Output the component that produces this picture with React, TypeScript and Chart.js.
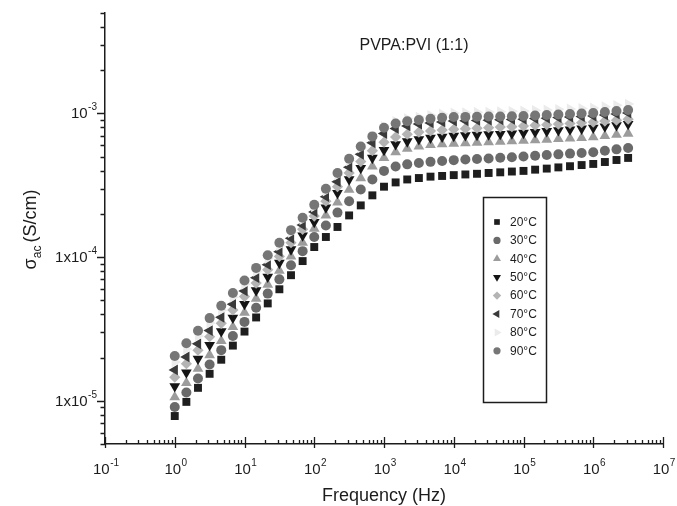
import React, { useEffect, useRef } from 'react';
import { Chart, registerables } from 'chart.js';
import { drawPoint } from 'chart.js/helpers';

Chart.register(...registerables);

// ---------------- data ----------------
const frequencies = [
  1, 1.468, 2.154, 3.162, 4.642, 6.813, 10, 14.68, 21.54, 31.62, 46.42, 68.13,
  100, 146.8, 215.4, 316.2, 464.2, 681.3, 1000, 1468, 2154, 3162, 4642, 6813,
  10000, 14678, 21544, 31623, 46416, 68129, 100000, 146780, 215440, 316230,
  464160, 681290, 1000000, 1467800, 2154400, 3162300,
];

const sigma20 = [7.83e-6, 9.82e-6, 1.23e-5, 1.54e-5, 1.93e-5, 2.42e-5, 3.03e-5, 3.80e-5, 4.76e-5, 5.97e-5, 7.48e-5, 9.38e-5, 1.175e-4, 1.38e-4, 1.62e-4, 1.95e-4, 2.29e-4, 2.69e-4, 3.09e-4, 3.31e-4, 3.47e-4, 3.55e-4, 3.63e-4, 3.67e-4, 3.72e-4, 3.76e-4, 3.80e-4, 3.85e-4, 3.89e-4, 3.94e-4, 3.98e-4, 4.06e-4, 4.13e-4, 4.21e-4, 4.29e-4, 4.37e-4, 4.45e-4, 4.59e-4, 4.74e-4, 4.90e-4];
const sigma30 = [9.06e-6, 1.14e-5, 1.43e-5, 1.79e-5, 2.25e-5, 2.82e-5, 3.54e-5, 4.44e-5, 5.57e-5, 7.00e-5, 8.77e-5, 1.10e-4, 1.38e-4, 1.66e-4, 2.04e-4, 2.45e-4, 2.95e-4, 3.47e-4, 3.98e-4, 4.27e-4, 4.42e-4, 4.52e-4, 4.60e-4, 4.67e-4, 4.73e-4, 4.78e-4, 4.82e-4, 4.86e-4, 4.91e-4, 4.95e-4, 5.01e-4, 5.07e-4, 5.13e-4, 5.19e-4, 5.25e-4, 5.31e-4, 5.37e-4, 5.50e-4, 5.62e-4, 5.75e-4];
const sigma40 = [1.06e-5, 1.33e-5, 1.67e-5, 2.08e-5, 2.61e-5, 3.27e-5, 4.10e-5, 5.14e-5, 6.44e-5, 8.05e-5, 1.01e-4, 1.26e-4, 1.58e-4, 1.95e-4, 2.40e-4, 2.95e-4, 3.55e-4, 4.27e-4, 4.90e-4, 5.37e-4, 5.69e-4, 5.89e-4, 6.03e-4, 6.10e-4, 6.17e-4, 6.21e-4, 6.27e-4, 6.31e-4, 6.35e-4, 6.41e-4, 6.46e-4, 6.52e-4, 6.58e-4, 6.64e-4, 6.70e-4, 6.76e-4, 6.84e-4, 6.97e-4, 7.11e-4, 7.24e-4];
const sigma50 = [1.26e-5, 1.57e-5, 1.96e-5, 2.44e-5, 3.04e-5, 3.78e-5, 4.71e-5, 5.86e-5, 7.29e-5, 9.10e-5, 1.13e-4, 1.41e-4, 1.75e-4, 2.21e-4, 2.79e-4, 3.47e-4, 4.17e-4, 4.90e-4, 5.56e-4, 6.10e-4, 6.38e-4, 6.61e-4, 6.76e-4, 6.87e-4, 6.97e-4, 7.03e-4, 7.08e-4, 7.14e-4, 7.19e-4, 7.24e-4, 7.31e-4, 7.41e-4, 7.52e-4, 7.62e-4, 7.73e-4, 7.83e-4, 7.94e-4, 8.11e-4, 8.26e-4, 8.43e-4];
const sigma60 = [1.46e-5, 1.81e-5, 2.25e-5, 2.79e-5, 3.46e-5, 4.29e-5, 5.31e-5, 6.59e-5, 8.17e-5, 1.01e-4, 1.26e-4, 1.56e-4, 1.93e-4, 2.45e-4, 3.09e-4, 3.85e-4, 4.62e-4, 5.50e-4, 6.31e-4, 6.84e-4, 7.16e-4, 7.41e-4, 7.55e-4, 7.66e-4, 7.76e-4, 7.83e-4, 7.89e-4, 7.96e-4, 8.04e-4, 8.09e-4, 8.17e-4, 8.26e-4, 8.34e-4, 8.43e-4, 8.51e-4, 8.61e-4, 8.71e-4, 8.85e-4, 8.97e-4, 9.12e-4];
const sigma70 = [1.64e-5, 2.02e-5, 2.49e-5, 3.08e-5, 3.81e-5, 4.70e-5, 5.81e-5, 7.18e-5, 8.85e-5, 1.09e-4, 1.35e-4, 1.67e-4, 2.06e-4, 2.63e-4, 3.35e-4, 4.22e-4, 5.19e-4, 6.24e-4, 7.24e-4, 7.85e-4, 8.18e-4, 8.43e-4, 8.59e-4, 8.73e-4, 8.85e-4, 8.89e-4, 8.93e-4, 8.97e-4, 9.02e-4, 9.08e-4, 9.12e-4, 9.20e-4, 9.27e-4, 9.35e-4, 9.44e-4, 9.51e-4, 9.59e-4, 9.75e-4, 9.91e-4, 1.007e-3];
const sigma80 = [1.86e-5, 2.29e-5, 2.82e-5, 3.47e-5, 4.27e-5, 5.25e-5, 6.46e-5, 7.94e-5, 9.77e-5, 1.20e-4, 1.48e-4, 1.82e-4, 2.24e-4, 2.88e-4, 3.72e-4, 4.68e-4, 5.75e-4, 6.92e-4, 8.13e-4, 8.81e-4, 9.20e-4, 9.44e-4, 9.70e-4, 9.91e-4, 1.007e-3, 1.012e-3, 1.019e-3, 1.023e-3, 1.028e-3, 1.035e-3, 1.040e-3, 1.050e-3, 1.057e-3, 1.067e-3, 1.074e-3, 1.084e-3, 1.091e-3, 1.114e-3, 1.138e-3, 1.161e-3];
const sigma90 = [2.05e-5, 2.51e-5, 3.07e-5, 3.76e-5, 4.59e-5, 5.62e-5, 6.87e-5, 8.41e-5, 1.03e-4, 1.26e-4, 1.54e-4, 1.88e-4, 2.31e-4, 2.99e-4, 3.85e-4, 4.84e-4, 5.89e-4, 6.92e-4, 7.94e-4, 8.51e-4, 8.81e-4, 8.99e-4, 9.18e-4, 9.33e-4, 9.44e-4, 9.46e-4, 9.48e-4, 9.51e-4, 9.53e-4, 9.57e-4, 9.59e-4, 9.66e-4, 9.75e-4, 9.82e-4, 9.91e-4, 9.98e-4, 1.007e-3, 1.023e-3, 1.040e-3, 1.057e-3];

const seriesLabels = ['20°C', '30°C', '40°C', '50°C', '60°C', '70°C', '80°C', '90°C'];
const seriesValues = [sigma20, sigma30, sigma40, sigma50, sigma60, sigma70, sigma80, sigma90];

const xMajorTicks = [0.1, 1, 10, 100, 1000, 1e4, 1e5, 1e6, 1e7];
const xTickBases = ['10', '10', '10', '10', '10', '10', '10', '10', '10'];
const xTickExps = ['-1', '0', '1', '2', '3', '4', '5', '6', '7'];
const yMajorTicks = [1e-5, 1e-4, 1e-3];
const yTickBases = ['1x10', '1x10', '10'];
const yTickExps = ['-5', '-4', '-3'];
const yDecades = [1e-6, 1e-5, 1e-4, 1e-3];

const chartTitle = 'PVPA:PVI (1:1)';
const xAxisTitle = 'Frequency (Hz)';

// ---------------- styles ----------------
const FONT = '"Liberation Sans", Arial, Helvetica, sans-serif';
const INK = '#1c1c1c';
const seriesColors = ['#1e1e1e', '#6a6a6a', '#9c9c9c', '#151515', '#b4b4b4', '#3a3a3a', '#ebebeb', '#767676'];
const seriesShapes = ['rect', 'circle', 'triangle', 'triangle', 'rectRot', 'triangle', 'triangle', 'circle'];
const seriesRotations = [0, 0, 0, 180, 0, 270, 90, 0];
const seriesRadii = [5.6, 5, 6.2, 6.2, 5.6, 6.2, 6.2, 5];
const legendRadii = [4, 3.6, 4.6, 4.6, 4.2, 4.6, 4.6, 3.6];

const X_MIN = 0.1, X_MAX = 1e7, Y_MIN = 5e-6, Y_MAX = 5e-3;

function minorTicks(decades: number[], min: number, max: number): number[] {
  const out: number[] = [];
  decades.forEach((d) => {
    for (let m = 1; m <= 9; m++) {
      const v = d * m;
      if (v >= min * 0.999 && v <= max * 1.001) out.push(v);
    }
  });
  return out;
}

function drawSup(
  ctx: CanvasRenderingContext2D, base: string, sup: string, x: number, y: number,
  align: 'center' | 'right', baseSize: number, supSize: number, raise: number,
) {
  const baseFont = `${baseSize}px ${FONT}`;
  const supFont = `${supSize}px ${FONT}`;
  ctx.font = baseFont;
  const wb = ctx.measureText(base).width;
  ctx.font = supFont;
  const ws = ctx.measureText(sup).width;
  const total = wb + ws + 0.5;
  const x0 = align === 'center' ? x - total / 2 : x - total;
  ctx.textAlign = 'left';
  ctx.textBaseline = 'alphabetic';
  ctx.font = baseFont;
  ctx.fillText(base, x0, y);
  ctx.font = supFont;
  ctx.fillText(sup, x0 + wb + 0.5, y - raise);
}

const decorPlugin = {
  id: 'decor',
  afterDraw(chart: any) {
    const ctx: CanvasRenderingContext2D = chart.ctx;
    const xs = chart.scales.x;
    const ys = chart.scales.y;
    const area = chart.chartArea;
    ctx.save();
    ctx.strokeStyle = INK;
    ctx.fillStyle = INK;
    ctx.lineWidth = 1.3;

    // x ticks (minor inward, major crossing)
    const xDecadesAll = xMajorTicks.slice(0, -1);
    const xMinor = minorTicks(xDecadesAll, X_MIN, X_MAX).filter((v) => !xMajorTicks.includes(v));
    ctx.beginPath();
    xMinor.forEach((v) => {
      const px = Math.round(xs.getPixelForValue(v)) + 0.5;
      ctx.moveTo(px, area.bottom);
      ctx.lineTo(px, area.bottom - 4);
    });
    xMajorTicks.forEach((v) => {
      const px = Math.round(xs.getPixelForValue(v)) + 0.5;
      ctx.moveTo(px, area.bottom + 4);
      ctx.lineTo(px, area.bottom - 7);
    });
    ctx.stroke();

    // y ticks (outward)
    const yMinor = minorTicks(yDecades, Y_MIN, Y_MAX).filter((v) => !yMajorTicks.some((m) => Math.abs(m - v) / m < 1e-6));
    ctx.beginPath();
    yMinor.forEach((v) => {
      const py = Math.round(ys.getPixelForValue(v)) + 0.5;
      ctx.moveTo(area.left, py);
      ctx.lineTo(area.left - 4.5, py);
    });
    yMajorTicks.forEach((v) => {
      const py = Math.round(ys.getPixelForValue(v)) + 0.5;
      ctx.moveTo(area.left, py);
      ctx.lineTo(area.left - 8, py);
    });
    ctx.stroke();

    // x tick labels
    xMajorTicks.forEach((v, i) => {
      const px = xs.getPixelForValue(v);
      drawSup(ctx, xTickBases[i], xTickExps[i], px + 1, area.bottom + 30, 'center', 15, 10, 8);
    });
    // y tick labels
    yMajorTicks.forEach((v, i) => {
      const py = ys.getPixelForValue(v);
      drawSup(ctx, yTickBases[i], yTickExps[i], area.left - 8, py + 5, 'right', 15, 10, 8);
    });

    // x axis title
    ctx.font = `18px ${FONT}`;
    ctx.textAlign = 'center';
    ctx.textBaseline = 'alphabetic';
    ctx.fillText(xAxisTitle, (area.left + area.right) / 2, area.bottom + 57);

    // y axis title: sigma_ac (S/cm), rotated
    ctx.save();
    ctx.translate(36, (area.top + area.bottom) / 2 + 1);
    ctx.rotate(-Math.PI / 2);
    const f1 = `18px ${FONT}`;
    const f2 = `12px ${FONT}`;
    ctx.font = f1;
    const wSig = ctx.measureText('σ').width;
    const wRest = ctx.measureText('(S/cm)').width;
    ctx.font = f2;
    const wSub = ctx.measureText('ac').width;
    const gap = 3;
    const tot = wSig + wSub + gap + wRest;
    let cx = -tot / 2;
    ctx.textAlign = 'left';
    ctx.font = f1;
    ctx.fillText('σ', cx, 0);
    cx += wSig;
    ctx.font = f2;
    ctx.fillText('ac', cx, 5);
    cx += wSub + gap;
    ctx.font = f1;
    ctx.fillText('(S/cm)', cx, 0);
    ctx.restore();

    // title inside plot
    ctx.font = `16px ${FONT}`;
    ctx.textAlign = 'center';
    ctx.fillText(chartTitle, area.left + 309, area.top + 37);

    // legend box
    const lx = area.left + 378;
    const ly = area.top + 184;
    const lw = 63;
    const lh = 205;
    ctx.lineWidth = 1.5;
    ctx.strokeStyle = INK;
    ctx.strokeRect(lx + 0.5, ly + 0.5, lw, lh);
    seriesLabels.forEach((label, i) => {
      const my = ly + 25 + i * 18.4;
      ctx.fillStyle = seriesColors[i];
      drawPoint(ctx, {
        pointStyle: seriesShapes[i], rotation: seriesRotations[i],
        radius: legendRadii[i], borderWidth: 0,
      } as any, lx + 14, my);
      ctx.fillStyle = INK;
      ctx.font = `12px ${FONT}`;
      ctx.textAlign = 'left';
      ctx.textBaseline = 'middle';
      ctx.fillText(label, lx + 27, my + 0.5);
    });
    ctx.restore();
  },
};

export default function App() {
  const canvasRef = useRef<HTMLCanvasElement | null>(null);

  useEffect(() => {
    document.body.style.margin = '0';
    const canvas = canvasRef.current;
    if (!canvas) return;
    const chart = new Chart(canvas, {
      type: 'scatter',
      data: {
        datasets: seriesLabels.map((label, i) => ({
          label,
          data: frequencies.map((f, j) => ({ x: f, y: seriesValues[i][j] })),
          pointStyle: seriesShapes[i] as any,
          pointRotation: seriesRotations[i],
          pointRadius: seriesRadii[i],
          pointBackgroundColor: seriesColors[i],
          pointBorderColor: seriesColors[i],
          pointBorderWidth: 0,
          showLine: false,
          order: seriesLabels.length - 1 - i,
        })),
      },
      options: {
        animation: false,
        responsive: false,
        events: [],
        layout: { padding: { top: 13, right: 14, left: 0, bottom: 0 } },
        plugins: {
          legend: { display: false },
          tooltip: { enabled: false },
          title: { display: false },
        },
        scales: {
          x: {
            type: 'logarithmic',
            min: X_MIN,
            max: X_MAX,
            grid: { display: false },
            border: { display: true, color: INK, width: 1.5 },
            ticks: { display: false },
            afterFit: (s: any) => { s.height = 62; },
          },
          y: {
            type: 'logarithmic',
            min: Y_MIN,
            max: Y_MAX,
            grid: { display: false },
            border: { display: true, color: INK, width: 1.5 },
            ticks: { display: false },
            afterFit: (s: any) => { s.width = 105; },
          },
        },
      } as any,
      plugins: [decorPlugin],
    });
    return () => chart.destroy();
  }, []);

  return (
    <div style={{ width: 677, height: 506, background: '#fff' }}>
      <canvas ref={canvasRef} width={677} height={506} style={{ display: 'block' }} />
    </div>
  );
}
